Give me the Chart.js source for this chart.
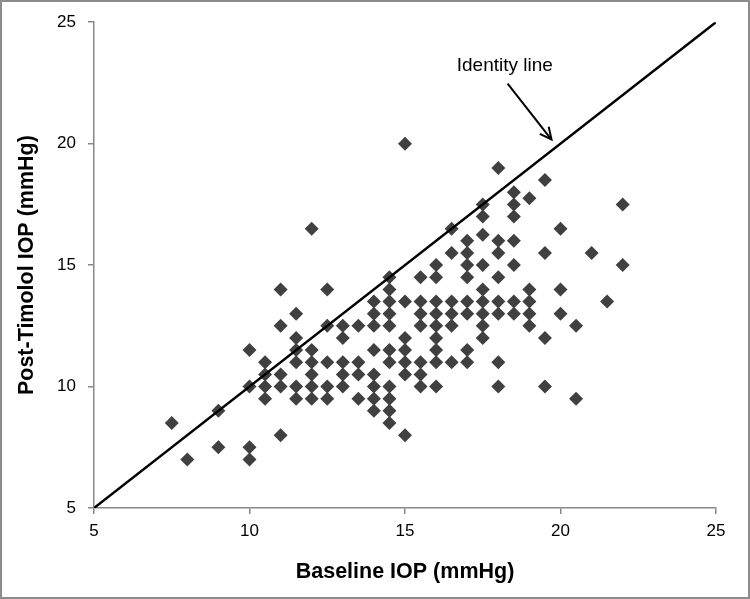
<!DOCTYPE html>
<html>
<head>
<meta charset="utf-8">
<script src="https://cdn.jsdelivr.net/npm/chart.js@4.4.0/dist/chart.umd.min.js"></script>
<style>
  html, body { margin: 0; padding: 0; background: #fff; }
</style>
</head>
<body>
<canvas id="iopChart" width="750" height="599"></canvas>
<script>
// Baseline IOP per eye (mmHg), grouped by post-timolol row, top to bottom
const baselineIOP = [
    15,
    18,
    19.5,
    18.5,
    19,
    17.5, 18.5, 22,
    17.5, 18.5,
    12, 16.5, 20,
    17.5,
    17, 18, 18.5,
    16.5, 17, 18, 19.5, 21,
    16, 17, 17.5, 18.5, 22,
    14.5, 15.5, 16, 17, 18,
    11, 12.5, 14.5, 17.5, 19, 20,
    14, 14.5, 15, 15.5, 16, 16.5, 17, 17.5, 18, 18.5, 19, 21.5,
    11.5, 14, 14.5, 15.5, 16, 16.5, 17, 17.5, 18, 18.5, 19, 20,
    11, 12.5, 13, 13.5, 14, 14.5, 15.5, 16, 16.5, 17.5, 19, 20.5,
    11.5, 13, 15, 16, 17.5, 19.5,
    10, 11.5, 12, 14, 14.5, 15, 16, 17,
    10.5, 11.5, 12, 12.5, 13, 13.5, 14.5, 15, 15.5, 16, 16.5, 17, 18,
    10.5, 11, 12, 13, 13.5, 14, 15, 15.5,
    10, 10.5, 11, 11.5, 12, 12.5, 13, 14, 14.5, 15.5, 16, 18, 19.5,
    10.5, 11.5, 12, 12.5, 13.5, 14, 14.5, 20.5,
    9, 14, 14.5,
    7.5, 14.5,
    11, 15,
    9, 10,
    8, 10,
];

// Post-timolol IOP for the same eyes (mmHg)
const postTimololIOP = [
    20,
    19,
    18.5,
    18,
    17.75,
    17.5, 17.5, 17.5,
    17, 17,
    16.5, 16.5, 16.5,
    16.25,
    16, 16, 16,
    15.5, 15.5, 15.5, 15.5, 15.5,
    15, 15, 15, 15, 15,
    14.5, 14.5, 14.5, 14.5, 14.5,
    14, 14, 14, 14, 14, 14,
    13.5, 13.5, 13.5, 13.5, 13.5, 13.5, 13.5, 13.5, 13.5, 13.5, 13.5, 13.5,
    13, 13, 13, 13, 13, 13, 13, 13, 13, 13, 13, 13,
    12.5, 12.5, 12.5, 12.5, 12.5, 12.5, 12.5, 12.5, 12.5, 12.5, 12.5, 12.5,
    12, 12, 12, 12, 12, 12,
    11.5, 11.5, 11.5, 11.5, 11.5, 11.5, 11.5, 11.5,
    11, 11, 11, 11, 11, 11, 11, 11, 11, 11, 11, 11, 11,
    10.5, 10.5, 10.5, 10.5, 10.5, 10.5, 10.5, 10.5,
    10, 10, 10, 10, 10, 10, 10, 10, 10, 10, 10, 10, 10,
    9.5, 9.5, 9.5, 9.5, 9.5, 9.5, 9.5, 9.5,
    9, 9, 9,
    8.5, 8.5,
    8, 8,
    7.5, 7.5,
    7, 7,
];

// Identity line (y = x) end points
const identityX = [5, 25];
const identityY = [5, 25];

// Tick labels shared by both axes
const axisTicks = [5, 10, 15, 20, 25];

const eyePoints = baselineIOP.map((x, i) => ({ x: x, y: postTimololIOP[i] }));
const identityPoints = identityX.map((x, i) => ({ x: x, y: identityY[i] }));

const tickFont = { family: '"Liberation Sans", Arial, sans-serif', size: 17 };
const titleFont = { family: '"Liberation Sans", Arial, sans-serif', size: 21.5, weight: 'bold' };

// Arrow label and gray frame round the figure
const notePlugin = {
    id: 'identityNote',
    afterDraw(chart) {
        const { ctx, scales: { x, y } } = chart;
        ctx.save();
        ctx.font = '19px "Liberation Sans", Arial, sans-serif';
        ctx.fillStyle = '#000';
        ctx.textAlign = 'center';
        ctx.textBaseline = 'middle';
        ctx.fillText('Identity line', x.getPixelForValue(18.21), y.getPixelForValue(23.21));

        const x0 = x.getPixelForValue(18.3), y0 = y.getPixelForValue(22.47);
        const x1 = x.getPixelForValue(19.71), y1 = y.getPixelForValue(20.17);
        ctx.strokeStyle = '#000';
        ctx.lineWidth = 2;
        ctx.beginPath();
        ctx.moveTo(x0, y0);
        ctx.lineTo(x1, y1);
        ctx.stroke();
        const ang = Math.atan2(y1 - y0, x1 - x0);
        const head = 13;
        ctx.beginPath();
        ctx.moveTo(x1 - head * Math.cos(ang - 0.45), y1 - head * Math.sin(ang - 0.45));
        ctx.lineTo(x1, y1);
        ctx.lineTo(x1 - head * Math.cos(ang + 0.45), y1 - head * Math.sin(ang + 0.45));
        ctx.stroke();

        ctx.strokeStyle = '#8c8c8c';
        ctx.lineWidth = 2;
        ctx.strokeRect(1, 1, chart.width - 2, chart.height - 2);
        ctx.restore();
    }
};

const ctx = document.getElementById('iopChart').getContext('2d');

new Chart(ctx, {
    type: 'scatter',
    data: {
        datasets: [
            {
                label: 'Identity line',
                data: identityPoints,
                showLine: true,
                borderColor: '#000',
                borderWidth: 2.5,
                pointRadius: 0,
                fill: false,
            },
            {
                label: 'Eyes',
                data: eyePoints,
                pointStyle: 'rectRot',
                pointRadius: 7,
                backgroundColor: '#404040',
                borderWidth: 0,
            }
        ]
    },
    options: {
        responsive: false,
        animation: false,
        layout: { padding: { left: 0, right: 34, top: 21, bottom: 0 } },
        plugins: {
            legend: { display: false },
            tooltip: { enabled: false },
        },
        scales: {
            x: {
                type: 'linear',
                min: 5,
                max: 25,
                afterBuildTicks: (scale) => { scale.ticks = axisTicks.map(v => ({ value: v })); },
                afterFit: (scale) => { scale.height = 91; },
                ticks: { font: tickFont, color: '#000', padding: 7, maxRotation: 0 },
                grid: { drawOnChartArea: false, drawTicks: true, tickLength: 6, color: '#888', lineWidth: 1.5 },
                border: { display: true, color: '#888', width: 1.5 },
                title: {
                    display: true,
                    text: 'Baseline IOP (mmHg)',
                    font: titleFont,
                    color: '#000',
                    padding: { top: 0, bottom: 14 }
                }
            },
            y: {
                type: 'linear',
                min: 5,
                max: 25,
                afterBuildTicks: (scale) => { scale.ticks = axisTicks.map(v => ({ value: v })); },
                afterFit: (scale) => { scale.width = 94; },
                ticks: { font: tickFont, color: '#000', padding: 12 },
                grid: { drawOnChartArea: false, drawTicks: true, tickLength: 6, color: '#888', lineWidth: 1.5 },
                border: { display: true, color: '#888', width: 1.5 },
                title: {
                    display: true,
                    text: 'Post-Timolol IOP (mmHg)',
                    font: titleFont,
                    color: '#000',
                    padding: { top: 14, bottom: 0 }
                }
            }
        }
    },
    plugins: [notePlugin]
});
</script>
</body>
</html>
